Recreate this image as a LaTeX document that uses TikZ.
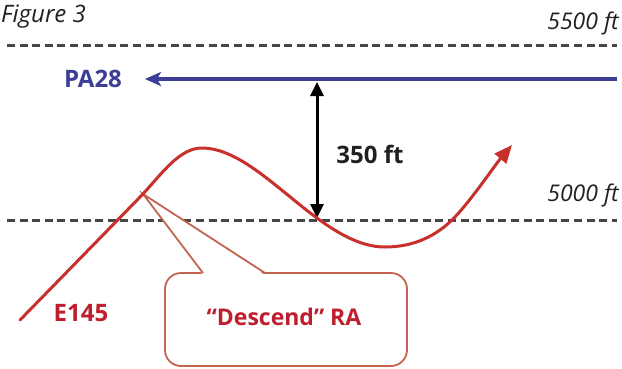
\documentclass[tikz,border=0pt]{standalone}
\usepackage{fontspec}
\setmainfont{Open Sans}
\usetikzlibrary{arrows.meta}
\definecolor{curvered}{RGB}{200,48,44}
\definecolor{labelred}{RGB}{190,30,45}
\definecolor{pablue}{RGB}{60,62,150}
\definecolor{dashgray}{RGB}{70,70,70}
\definecolor{calloutc}{RGB}{195,100,80}
\definecolor{inkblack}{RGB}{35,31,32}
\begin{document}
\begin{tikzpicture}[x=1pt,y=-1pt,
  altline/.style={draw=dashgray,line width=3pt,dash pattern=on 8pt off 4.6pt},
  boldlabel/.style={inner sep=0pt,font=\fontsize{24}{28}\selectfont\bfseries},
  itlabel/.style={inner sep=0pt,text=inkblack,font=\fontsize{23}{27}\selectfont\itshape},
  calloutline/.style={draw=calloutc,line width=1.8pt,line join=miter},
  trackred/.style={draw=curvered,line width=3pt,line cap=round,line join=round},
  trackblue/.style={draw=pablue,line width=3.5pt}]
\useasboundingbox (0,0) rectangle (622,368);
% altitude lines
\coordinate (hiL) at (7,45);
\coordinate (hiR) at (617,45);
\coordinate (loL) at (7,220);
\coordinate (loR) at (617,220);
\draw[altline] (hiL) -- (hiR);
\draw[altline] (loL) -- (loR);
% labels of altitudes
\node[inner sep=0pt,anchor=base west,text=inkblack,font=\fontsize{24}{28}\selectfont\itshape] (fig) at (1,22) {Figure 3};
\node[itlabel,anchor=base east] (alt55) at (619,29) {5500 ft};
\node[itlabel,anchor=base east] (alt50) at (619,201) {5000 ft};
% callout
\coordinate (kink) at (143,194);
\coordinate (cbL) at (203,273);
\coordinate (cbR) at (265,273);
\draw[calloutline,fill=white,rounded corners=16pt] (165,273) rectangle (407,366);
\fill[white] (203,275) -- (kink) -- (265,275) -- cycle;
\draw[calloutline] (cbL) -- (kink) -- (cbR);
\node[boldlabel,text=labelred,anchor=base,font=\fontsize{23}{27}\selectfont\bfseries] (ra) at (284,325) {“Descend” RA};
% PA28 track
\coordinate (paS) at (617,79);
\coordinate (paE) at (145,79);
\draw[trackblue,-{Stealth[length=16pt,width=14pt,inset=4pt]}] (paS) -- (paE);
\node[boldlabel,text=pablue,anchor=base] (pa) at (93,87) {PA28};
% separation arrow
\coordinate (sepT) at (317,82);
\coordinate (sepB) at (317,218);
\draw[draw=black,line width=3pt,{Triangle[length=14pt,width=13pt]}-{Triangle[length=14pt,width=13pt]}] (sepT) -- (sepB);
\node[boldlabel,text=inkblack,anchor=base] (sep) at (370,163) {350 ft};
% E145 track
\coordinate (eS) at (20,320);
\coordinate (eE) at (512,145);
\draw[trackred,-{Triangle[length=18pt,width=15pt]}] (eS) -- (kink)
  .. controls (163,172) and (180,148) .. (202,148)
  .. controls (260,148) and (320,247) .. (385,247)
  .. controls (415,247) and (437,235) .. (453,219)
  .. controls (470,202) and (495,165) .. (eE);
\node[boldlabel,text=labelred,anchor=base] (e145) at (81,321) {E145};
\end{tikzpicture}
\end{document}
